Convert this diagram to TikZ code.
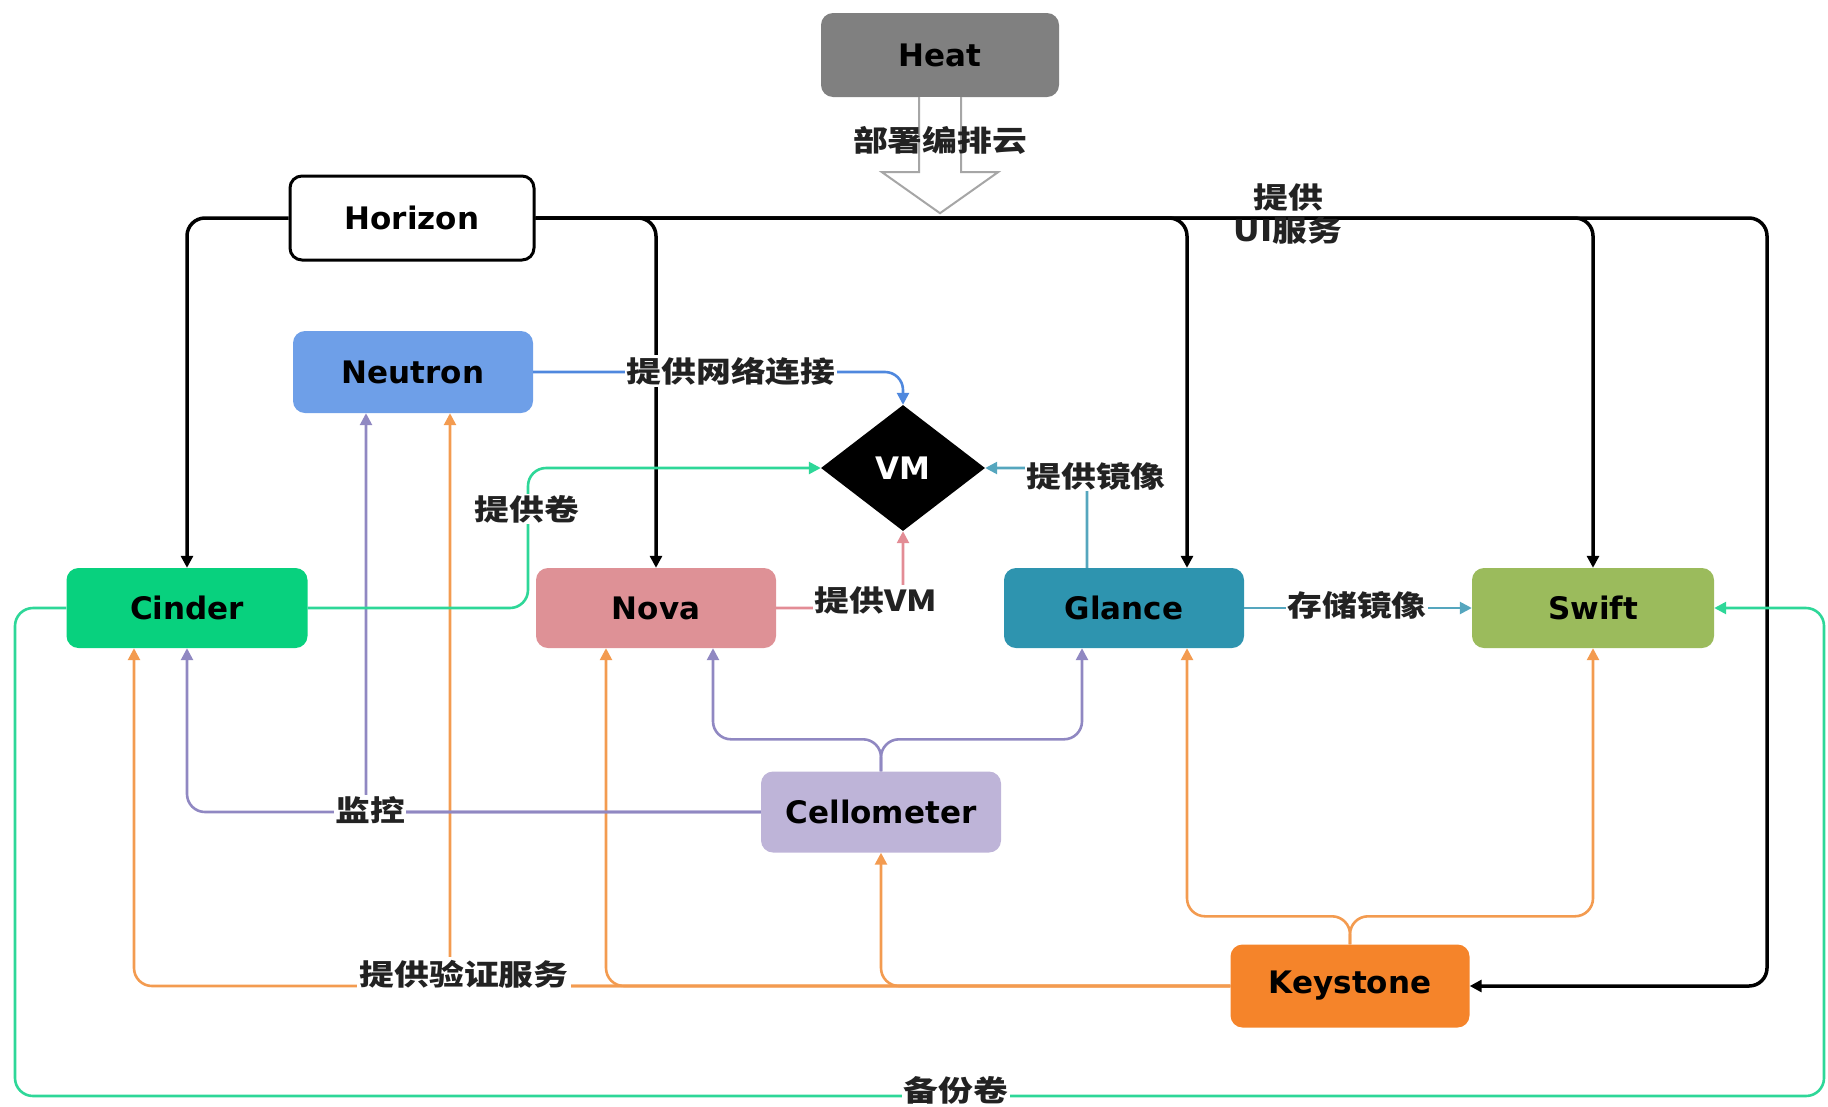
\documentclass[tikz,border=0pt]{standalone}
\usepackage{fontspec}
\setmainfont{DejaVu Sans}
\newfontfamily\cjkfont[FakeStretch=1.2]{Noto Sans CJK SC}
\usetikzlibrary{shapes.geometric,arrows.meta,calc}
\newcommand\myNodeFont{\fontsize{31}{36}\selectfont\bfseries}
\newcommand\myLblFont{\cjkfont\fontsize{29}{33}\selectfont\bfseries}
\definecolor{heatgray}{HTML}{808080}
\definecolor{neutronblue}{HTML}{6E9FE8}
\definecolor{cindergreen}{HTML}{08D17E}
\definecolor{novapink}{HTML}{DE9196}
\definecolor{glanceteal}{HTML}{2E94AF}
\definecolor{swiftgreen}{HTML}{9BBB5C}
\definecolor{cellopurple}{HTML}{BEB4D8}
\definecolor{keyorange}{HTML}{F5842A}
\definecolor{lpurple}{HTML}{9088C2}
\definecolor{lorange}{HTML}{F39B50}
\definecolor{lgreen}{HTML}{2ED798}
\definecolor{lteal}{HTML}{55A6BE}
\definecolor{lpink}{HTML}{E38C95}
\definecolor{lblue}{HTML}{4F88DE}
\definecolor{lbltext}{HTML}{222222}
\tikzset{
  box/.style={rounded corners=12pt, minimum width=240pt, minimum height=81pt, inner sep=0pt, font=\myNodeFont, text=black},
  lbl/.style={fill=white, inner sep=1.5pt, font=\myLblFont, text=lbltext},
  tip/.style={-{Triangle[length=12pt,width=12pt]}},
  hline/.style={draw=black, line width=3.5pt, rounded corners=18pt, tip},
  cline/.style={draw=#1, line width=2.6pt, rounded corners=18pt, tip},
  hollow/.style={draw=gray!70, line width=2pt, fill=white},
}
\begin{document}
\begin{tikzpicture}[x=1pt,y=-1pt]
\useasboundingbox (0,0) rectangle (1828,1106);
% nodes
\node[box, fill=heatgray, minimum width=238pt, minimum height=84pt] (heat) at (940,55) {Heat};
\node[box, draw=black, line width=3pt, fill=white, minimum width=244pt, minimum height=84pt] (horizon) at (412,218) {Horizon};
\node[box, fill=neutronblue, minimum height=82pt] (neutron) at (413,372) {Neutron};
\node[diamond, fill=black, minimum width=164pt, minimum height=126pt, inner sep=0pt, aspect=1.3, font=\myNodeFont, text=white] (vm) at (903,468) {VM};
\node[box, fill=cindergreen, minimum width=241pt, minimum height=80pt] (cinder) at (187,608) {Cinder};
\node[box, fill=novapink, minimum height=80pt] (nova) at (656,608) {Nova};
\node[box, fill=glanceteal, minimum height=80pt] (glance) at (1124,608) {Glance};
\node[box, fill=swiftgreen, minimum width=242pt, minimum height=80pt] (swift) at (1593,608) {Swift};
\node[box, fill=cellopurple, minimum height=81pt] (cellometer) at (881,812) {Cellometer};
\node[box, fill=keyorange, minimum width=239pt, minimum height=83pt] (keystone) at (1350,986) {Keystone};
% helper coordinates
\coordinate (hzR) at (1767,218);
\coordinate (glTopH) at ([xshift=63pt]glance.north);
\coordinate (glTopV) at ([xshift=-37pt]glance.north);
\coordinate (cvBend) at (528,540);
\coordinate (neuBotP) at ([xshift=-47pt]neutron.south);
\coordinate (neuBotO) at ([xshift=37pt]neutron.south);
\coordinate (cinBotO) at ([xshift=-53pt]cinder.south);
\coordinate (novBotO) at ([xshift=-50pt]nova.south);
\coordinate (novBotP) at ([xshift=57pt]nova.south);
\coordinate (glBotP) at ([xshift=-42pt]glance.south);
\coordinate (glBotO) at ([xshift=63pt]glance.south);
\coordinate (cmSplit) at ([yshift=32pt]cellometer.north);
\coordinate (kSplit) at ([yshift=28pt]keystone.north);
\coordinate (bkL) at (15,1096);
\coordinate (bkR) at (1824,1096);
% Heat hollow arrow
\draw[hollow] ([xshift=-21pt]heat.south) -- ++(0,75) -- ++(-37,0) -- ([yshift=-116pt]heat.south) -- ++(58,-41) -- ++(-37,0) -- ([xshift=21pt]heat.south);
% Horizon lines
\draw[hline] (horizon.west) -| (cinder.north);
\draw[hline] (horizon.east) -| (nova.north);
\draw[hline] (horizon.east) -| (glTopH);
\draw[hline] (horizon.east) -| (swift.north);
\draw[hline] (horizon.east) -- (hzR) |- (keystone.east);
% backup green
\draw[cline=lgreen] (cinder.west) -| (bkL) -- (bkR) |- (swift.east);
% Keystone orange
\draw[cline=lorange] (keystone.west) -| (cinBotO);
\draw[cline=lorange] (keystone.west) -| (neuBotO);
\draw[cline=lorange] (keystone.west) -| (novBotO);
\draw[cline=lorange] (keystone.west) -| (cellometer.south);
\draw[cline=lorange] (keystone.north) -- (kSplit) -| (glBotO);
\draw[cline=lorange] (keystone.north) -- (kSplit) -| (swift.south);
% Cellometer purple
\draw[cline=lpurple] (cellometer.west) -| (cinder.south);
\draw[cline=lpurple] (cellometer.west) -| (neuBotP);
\draw[cline=lpurple] (cellometer.north) -- (cmSplit) -| (novBotP);
\draw[cline=lpurple] (cellometer.north) -- (cmSplit) -| (glBotP);
% to VM
\draw[cline=lblue] (neutron.east) -| (vm.north);
\draw[cline=lgreen] (cinder.east) -| (cvBend) |- (vm.west);
\draw[cline=lpink] (nova.east) -| (vm.south);
\draw[cline=lteal] (glTopV) |- (vm.east);
\draw[cline=lteal] (glance.east) -- (swift.west);
% labels
\node[font=\myLblFont, text=lbltext] (lDeploy) at (940,140) {部署编排云};
\node[lbl, fill=none, align=center] (lUI) at (1288,214) {提供\\UI服务};
\node[lbl] (lNet) at (731,371) {提供网络连接};
\node[lbl] (lVol) at (527,509) {提供卷};
\node[lbl] (lVM) at (876,600) {提供VM};
\node[lbl] (lImg) at (1096,476) {提供镜像};
\node[lbl] (lStore) at (1357,605) {存储镜像};
\node[lbl] (lMon) at (370,810) {监控};
\node[lbl, inner sep=3pt] (lAuth) at (464,974) {提供验证服务};
\node[lbl] (lBak) at (956,1090) {备份卷};
\end{tikzpicture}
\end{document}
